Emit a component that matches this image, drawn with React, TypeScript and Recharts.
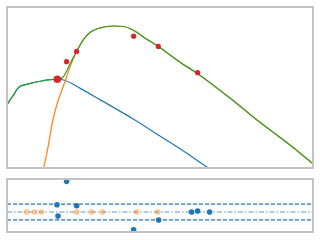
import { ComposedChart, Line, Scatter, XAxis, YAxis, ReferenceLine } from 'recharts'

// x is on a log axis (decades at 1, 10, 100, 1000)
const greenX = [0.296, 0.326, 0.355, 0.395, 0.434, 0.501, 0.579, 0.772, 1.029, 1.259, 1.454, 1.645, 1.83, 2.194, 2.683, 3.254, 4.341, 6.31, 8.414, 11.22, 14.96, 23.04, 43.4, 70.79, 183, 398.1, 1029, 1977]
const greenY = [2.04, 2.25, 2.4, 2.63, 2.75, 2.81, 2.86, 2.94, 3.0, 3.02, 3.07, 3.32, 3.63, 4.08, 4.54, 4.81, 4.98, 5.05, 5.03, 4.89, 4.63, 4.27, 3.66, 3.24, 2.29, 1.45, 0.5, -0.21]

const orangeX = [0.83, 0.958, 1.106, 1.259, 1.496, 1.83, 2.194, 2.683, 3.254, 4.341, 6.31, 8.414, 11.22, 14.96, 23.04, 43.4, 70.79, 183, 398.1, 1029, 1977]
const orangeY = [-0.5, 0.38, 1.45, 2.1, 2.75, 3.51, 4.08, 4.54, 4.81, 4.98, 5.05, 5.03, 4.89, 4.63, 4.27, 3.66, 3.24, 2.29, 1.45, 0.5, -0.21]

const blueX = [0.296, 0.326, 0.355, 0.395, 0.434, 0.501, 0.579, 0.772, 1.029, 1.259, 1.508, 2.441, 4.341, 11.32, 24.41, 50.12, 98.0, 118.9]
const blueY = [2.04, 2.25, 2.4, 2.63, 2.75, 2.81, 2.86, 2.94, 3.0, 3.02, 2.99, 2.67, 2.23, 1.49, 0.84, 0.23, -0.37, -0.53]

const obsX = [1.259, 1.645, 2.194, 11.32, 23.04, 71.4]
const obsY = [3.02, 3.69, 4.08, 4.66, 4.27, 3.27]

const residX = [1.645, 1.248, 2.194, 1.285, 23.24, 11.32, 60.06, 71.4, 100.8]
const residY = [2.21, 0.52, 0.45, -0.29, -0.57, -1.29, 0.0, 0.07, 0.0]

const zeroX = [0.52, 0.655, 0.801, 2.194, 3.378, 4.637, 12.34, 22.58]

const band = 0.57

const xTicks = [0.3, 0.4, 0.5, 0.6, 0.7, 0.8, 0.9, 1, 2, 3, 4, 5, 6, 7, 8, 9, 10, 20, 30, 40, 50, 60, 70, 80, 90, 100, 200, 300, 400, 500, 600, 700, 800, 900, 1000]
const topTicks = [0, 1, 2, 3, 4, 5]
const bottomTicks = [-1, 0, 1, 2]

const zip = (xs: number[], ys: number[]) => xs.map((x, i) => ({ x, y: ys[i] }))

const green = zip(greenX, greenY)
const orange = zip(orangeX, orangeY)
const blue = zip(blueX, blueY)
const obs = zip(obsX, obsY)
const resid = zip(residX, residY)
const zeros = zeroX.map((x) => ({ x, y: 0 }))

const frame = '#c4c4c4'
const xDomain = [0.296, 1977]

function xAxis() {
  return (
    <XAxis
      dataKey="x"
      type="number"
      scale="log"
      domain={xDomain}
      allowDataOverflow
      ticks={xTicks}
      tick={false}
      tickSize={3}
      tickLine={{ stroke: '#b8b8b8' }}
      axisLine={false}
      height={0}
    />
  )
}

export default function App() {
  return (
    <div style={{ position: 'absolute', left: 0, top: 0, width: 320, height: 240, background: '#fff' }}>
      <div style={{ position: 'absolute', left: 0, top: 0 }}>
        <ComposedChart width={320} height={172} margin={{ top: 7, right: 7, bottom: 4, left: 7 }}>
          {xAxis()}
          <YAxis
            type="number"
            domain={[-0.37, 5.775]}
            allowDataOverflow
            ticks={topTicks}
            tick={false}
            tickSize={3}
            tickLine={{ stroke: '#b8b8b8' }}
            axisLine={false}
            width={0}
          />
          <Line type="monotone" data={blue} dataKey="y" stroke="#1f77b4" strokeWidth={1.2} dot={false} isAnimationActive={false} />
          <Line type="monotone" data={orange} dataKey="y" stroke="#ff7f0e" strokeWidth={1.2} dot={false} isAnimationActive={false} />
          <Line type="monotone" data={green} dataKey="y" stroke="#2ca02c" strokeWidth={1.2} dot={false} isAnimationActive={false} />
          <Scatter
            data={obs}
            dataKey="y"
            isAnimationActive={false}
            shape={(p: any) => <circle cx={p.cx} cy={p.cy} r={p.index === 0 ? 3.8 : 2.6} fill="#d62728" />}
          />
        </ComposedChart>
      </div>
      <div style={{ position: 'absolute', left: 0, top: 172 }}>
        <ComposedChart width={320} height={68} margin={{ top: 7, right: 7, bottom: 8, left: 7 }}>
          {xAxis()}
          <YAxis
            type="number"
            domain={[-1.44, 2.38]}
            allowDataOverflow
            ticks={bottomTicks}
            tick={false}
            tickSize={3}
            tickLine={{ stroke: '#b8b8b8' }}
            axisLine={false}
            width={0}
          />
          <ReferenceLine y={band} stroke="#1f77b4" strokeDasharray="4 2" strokeWidth={1.2} />
          <ReferenceLine y={-band} stroke="#1f77b4" strokeDasharray="4 2" strokeWidth={1.2} />
          <ReferenceLine y={0} stroke="#5a9bd0" strokeDasharray="5 2 1.5 2" strokeWidth={1.2} />
          <Scatter
            data={zeros}
            dataKey="y"
            isAnimationActive={false}
            shape={(p: any) => <circle cx={p.cx} cy={p.cy} r={3} fill="#ff7f0e" fillOpacity={0.4} />}
          />
          <Scatter
            data={resid}
            dataKey="y"
            isAnimationActive={false}
            shape={(p: any) => <circle cx={p.cx} cy={p.cy} r={2.8} fill="#1f77b4" />}
          />
        </ComposedChart>
      </div>
      <div style={{ position: 'absolute', left: 6, top: 6, width: 304, height: 159, border: `2px solid ${frame}` }} />
      <div style={{ position: 'absolute', left: 6, top: 178, width: 304, height: 51, border: `2px solid ${frame}` }} />
    </div>
  )
}
